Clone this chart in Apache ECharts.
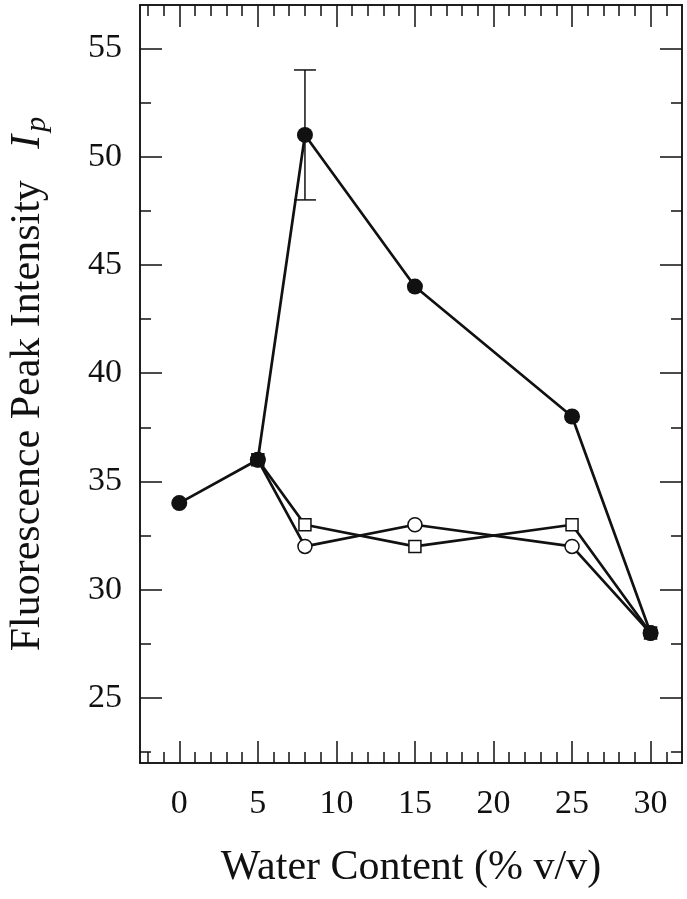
<!DOCTYPE html>
<html>
<head>
<meta charset="utf-8">
<script src="https://cdn.jsdelivr.net/npm/echarts@6/dist/echarts.min.js"></script>
<style>
html,body{margin:0;padding:0;background:#fff;}
#chart{width:687px;height:899px;}
</style>
</head>
<body>
<div id="chart"></div>
<script>
// ---- data ----
const waterContent = [0, 5, 8, 15, 25, 30];
const filledCircle = [34, 36, 51, 44, 38, 28];
const openSquare   = [null, 36, 33, 32, 33, 28];
const openCircle   = [null, 36, 32, 33, 32, 28];
const errorX    = [8];
const errorLow  = [48];
const errorHigh = [54];
const xMajorTicks = [0, 5, 10, 15, 20, 25, 30];
const xMinorTicks = [-2, -1, 1, 2, 3, 4, 6, 7, 8, 9, 11, 12, 13, 14, 16, 17, 18, 19, 21, 22, 23, 24, 26, 27, 28, 29, 31];
const yMajorTicks = [25, 30, 35, 40, 45, 50, 55];
const yMinorTicks = [22.5, 27.5, 32.5, 37.5, 42.5, 47.5, 52.5];

const FONT = "'Liberation Serif', 'Times New Roman', serif";
const INK = '#111';

function pairs(ys) {
  return waterContent.map((x, i) => ys[i] == null ? null : [x, ys[i]]).filter(p => p);
}

function mkX(pos, ticks, len, labels) {
  return {
    type: 'value', position: pos, min: -2.5, max: 32,
    axisLine: { show: true, onZero: false, lineStyle: { color: INK, width: 1.5 } },
    axisTick: { show: true, inside: true, length: len, customValues: ticks, lineStyle: { color: INK, width: 1.5 } },
    axisLabel: labels ? { show: true, customValues: ticks, fontFamily: FONT, fontSize: 34, color: INK, margin: 24 } : { show: false },
    splitLine: { show: false }
  };
}
function mkY(pos, ticks, len, labels) {
  return {
    type: 'value', position: pos, min: 22, max: 57,
    axisLine: { show: true, onZero: false, lineStyle: { color: INK, width: 1.5 } },
    axisTick: { show: true, inside: true, length: len, customValues: ticks, lineStyle: { color: INK, width: 1.5 } },
    axisLabel: labels ? { show: true, customValues: ticks, fontFamily: FONT, fontSize: 34, color: INK, margin: 18 } : { show: false },
    splitLine: { show: false }
  };
}

const xAxes = [
  mkX('bottom', xMajorTicks, 22, true),
  mkX('bottom', xMinorTicks, 11, false),
  mkX('top', xMajorTicks, 22, false),
  mkX('top', xMinorTicks, 11, false)
];
xAxes[0].name = 'Water Content (% v/v)';
xAxes[0].nameLocation = 'middle';
xAxes[0].nameGap = 84;
xAxes[0].nameTextStyle = { fontFamily: FONT, fontSize: 42, color: INK };

const yAxes = [
  mkY('left', yMajorTicks, 22, true),
  mkY('left', yMinorTicks, 11, false),
  mkY('right', yMajorTicks, 22, false),
  mkY('right', yMinorTicks, 11, false)
];
yAxes[0].name = 'Fluorescence Peak Intensity   {it|I}{sub|p}';
yAxes[0].nameLocation = 'middle';
yAxes[0].nameGap = 88;
yAxes[0].nameTextStyle = {
  fontFamily: FONT, fontSize: 42, color: INK,
  rich: {
    it: { fontFamily: FONT, fontSize: 42, fontStyle: 'italic', color: INK },
    sub: { fontFamily: FONT, fontSize: 30, fontStyle: 'italic', color: INK, padding: [18, 0, 0, 3], verticalAlign: 'bottom' }
  }
};

const lineStyle = { color: INK, width: 2.7 };

const option = {
  animation: false,
  backgroundColor: '#fff',
  grid: { left: 140, right: 5, top: 5, bottom: 136, containLabel: false, outerBoundsMode: 'none' },
  xAxis: xAxes,
  yAxis: yAxes,
  series: [
    {
      type: 'custom', name: 'error', xAxisIndex: 0, yAxisIndex: 0, z: 1,
      data: errorX.map((x, i) => [x, errorLow[i], errorHigh[i]]),
      renderItem: function (params, api) {
        const lo = api.coord([api.value(0), api.value(1)]);
        const hi = api.coord([api.value(0), api.value(2)]);
        const hw = 11;
        const st = { stroke: INK, lineWidth: 1.5, fill: null };
        return {
          type: 'group',
          children: [
            { type: 'line', shape: { x1: lo[0], y1: lo[1], x2: hi[0], y2: hi[1] }, style: st },
            { type: 'line', shape: { x1: lo[0] - hw, y1: lo[1], x2: lo[0] + hw, y2: lo[1] }, style: st },
            { type: 'line', shape: { x1: hi[0] - hw, y1: hi[1], x2: hi[0] + hw, y2: hi[1] }, style: st }
          ]
        };
      }
    },
    {
      type: 'line', name: 'open circle', data: pairs(openCircle), z: 2,
      symbol: 'circle', symbolSize: 14, showAllSymbol: true,
      lineStyle: lineStyle,
      itemStyle: { color: '#fff', borderColor: INK, borderWidth: 1.5 }
    },
    {
      type: 'line', name: 'open square', data: pairs(openSquare), z: 3,
      symbol: 'rect', symbolSize: 12, showAllSymbol: true,
      lineStyle: lineStyle,
      itemStyle: { color: '#fff', borderColor: INK, borderWidth: 1.5 }
    },
    {
      type: 'line', name: 'filled circle', data: pairs(filledCircle), z: 4,
      symbol: 'circle', symbolSize: 16, showAllSymbol: true,
      lineStyle: lineStyle,
      itemStyle: { color: INK, borderColor: INK, borderWidth: 0 }
    }
  ]
};

const chart = echarts.init(document.getElementById('chart'), null, { renderer: 'canvas' });
chart.setOption(option);
</script>
</body>
</html>
